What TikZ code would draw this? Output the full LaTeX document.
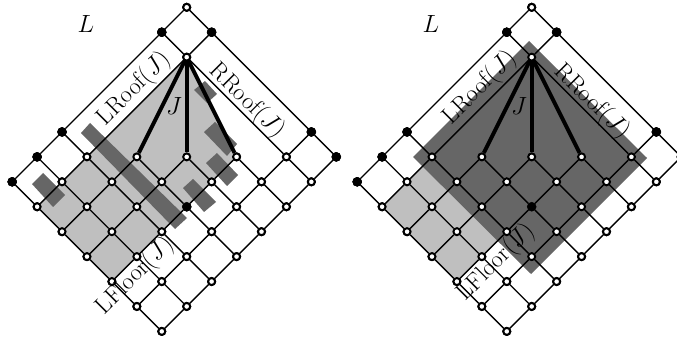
\documentclass[tikz,border=0pt]{standalone}
\begin{document}
\begin{tikzpicture}[x=1pt,y=-1pt,
  wn/.style={circle,draw=black,fill=white,line width=2pt,inner sep=0pt,minimum size=7pt},
  bn/.style={circle,draw=black,fill=black,line width=0.5pt,inner sep=0pt,minimum size=9pt},
  edgeline/.style={line width=1.4pt,black},
  fanline/.style={line width=3.9pt,black},
  lightfill/.style={fill=black!25},
  darkfill/.style={fill=black!60},
  lab/.style={font=\fontsize{24}{28}\selectfont,inner sep=0pt}]
\newcommand{\latnodes}[2]{%
  \begin{scope}[shift={(#2,0)}]
  \foreach \a/\b in {0/0,1/1,5/1,4/2,3/3,2/4,1/5,6/1,5/2,4/3,3/4,2/5,1/6,7/1,6/2,5/3,3/5,2/6,7/2,6/3,5/4,4/5,3/6,7/3,6/4,5/5,4/6,7/4,6/5,5/6,7/5,6/6,7/6}
    \node[wn] (#1-\a-\b) at ({186.7+24.93*(\b-\a)},{7.3+24.93*(\a+\b)}) {};
  \foreach \a/\b in {1/0,0/1,5/0,0/5,6/0,0/6,7/0,4/4}
    \node[bn] (#1-\a-\b) at ({186.7+24.93*(\b-\a)},{7.3+24.93*(\a+\b)}) {};
  \end{scope}}
\newcommand{\latedges}[1]{%
  \foreach \a in {0,...,7}{\foreach \b in {0,...,6}{%
    \pgfmathtruncatemacro{\s}{\a+\b}\pgfmathtruncatemacro{\na}{\a+1}\pgfmathtruncatemacro{\nb}{\b+1}%
    \ifnum\s>5
      \ifnum\a<7 \draw[edgeline] (#1-\a-\b) -- (#1-\na-\b);\fi
      \ifnum\b<6 \draw[edgeline] (#1-\a-\b) -- (#1-\a-\nb);\fi
    \fi}}
  \foreach \p/\q in {0-0/1-0,0-0/0-1,1-0/1-1,0-1/1-1,1-0/5-0,0-1/0-5,1-1/5-1,1-1/1-5,5-0/5-1,5-0/6-0,0-5/1-5,0-5/0-6}
    \draw[edgeline] (#1-\p) -- (#1-\q);
  \foreach \q in {4-2,3-3,2-4}
    \draw[fanline] (#1-1-1.center) -- (#1-\q);}
\clip (0,0) rectangle (677,339);
\useasboundingbox (0,0) rectangle (677,339);
\fill[white] (0,0) rectangle (677,339);
\latnodes{A}{0}
\latnodes{B}{345}
% fills
\fill[lightfill] (A-1-1.center) -- (A-7-1.center) -- (A-7-4.center) -- (A-2-4.center) -- cycle;
\fill[lightfill] (B-1-1.center) -- (B-7-1.center) -- (B-7-4.center) -- (B-2-4.center) -- cycle;
\fill[darkfill] (81,133) -- (90,123) -- (187,218) -- (175,229) -- cycle;
\fill[darkfill] (32,184) -- (43,173) -- (65,195) -- (53,207) -- cycle;
\fill[darkfill] (183,188) -- (193,179) -- (216,202) -- (204,212) -- cycle;
\fill[darkfill] (206,163) -- (217,153) -- (238,175) -- (227,186) -- cycle;
\fill[darkfill] (204,132) -- (215,122) -- (237,144) -- (227,156) -- cycle;
\fill[darkfill] (194,90) -- (205,81) -- (217,94) -- (207,103) -- cycle;
\fill[darkfill] (529,41) -- (647,158) -- (531,274) -- (413,157) -- cycle;
\latedges{A}
\latedges{B}
\latnodes{A}{0}
\latnodes{B}{345}
\node[lab] (t1) at (86,24) {$L$};
\node[lab] (t2) at (431,24) {$L$};
\node[lab] (t3) at (174,106) {$J$};
\node[lab] (t4) at (519,106) {$J$};
\node[lab,rotate=45] (t5) at (134,89) {LRoof$(J)$};
\node[lab,rotate=45] (t6) at (480,88) {LRoof$(J)$};
\node[lab,rotate=-45] (t7) at (247,101) {RRoof$(J)$};
\node[lab,rotate=-45] (t8) at (592,102) {RRoof$(J)$};
\node[lab,rotate=45] (t9) at (135,276) {LFloor$(J)$};
\node[lab,rotate=45] (t10) at (496,262.5) {LFloor$(J)$};
\end{tikzpicture}
\end{document}
